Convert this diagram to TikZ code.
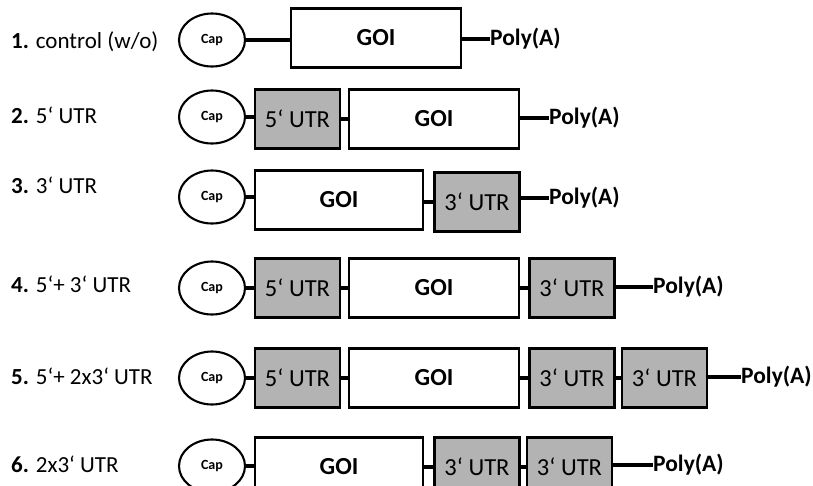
\documentclass[tikz,border=0pt]{standalone}
\usepackage{fontspec}
\setmainfont{Carlito}
\definecolor{utrgray}{HTML}{B3B3B3}
\tikzset{
  capnode/.style={ellipse, draw, line width=2.1pt, minimum width=66pt, minimum height=53pt, inner sep=0pt, font=\fontsize{14}{16}\selectfont\bfseries},
  goibox/.style={rectangle, draw, line width=2.2pt, fill=white, minimum height=59pt, inner sep=0pt, font=\fontsize{24.5}{28}\selectfont\bfseries},
  utrbox/.style={rectangle, draw, line width=2.2pt, fill=utrgray, minimum width=85pt, minimum height=59pt, inner sep=0pt, font=\fontsize{24.5}{28}\selectfont},
  polytext/.style={anchor=west, inner sep=0pt, font=\fontsize{23.5}{27}\selectfont\bfseries},
  rowlabel/.style={anchor=base west, inner sep=0pt, font=\fontsize{23}{27}\selectfont},
  link/.style={line width=3.4pt}
}
\usetikzlibrary{shapes.geometric}
\begin{document}
\begin{tikzpicture}[x=1pt,y=-1pt]
\useasboundingbox (0,0) rectangle (813,485);
\clip (0,0) rectangle (813,485);
% Row 1
\node[rowlabel] (l1) at (11,48) {\textbf{1.} control (w/o)};
\node[capnode] (c1) at (212,40) {Cap};
\node[goibox, minimum width=170pt] (g1) at (376,38) {GOI};
\node[polytext] (p1) at (490,39) {Poly(A)};
\draw[link] (c1.east) -- (c1.east -| g1.west);
\draw[link] (g1.east |- p1.west) -- (p1.west);
% Row 2
\node[rowlabel] (l2) at (11,123) {\textbf{2.} 5‘ UTR};
\node[capnode] (c2) at (212,117) {Cap};
\node[utrbox] (u21) at (297.5,119) {5‘ UTR};
\node[goibox, minimum width=170pt] (g2) at (434,119) {GOI};
\node[polytext] (p2) at (549,118) {Poly(A)};
\draw[link] (c2.east) -- (c2.east -| u21.west);
\draw[link] (u21.east) -- (g2.west);
\draw[link] (g2.east |- p2.west) -- (p2.west);
% Row 3
\node[rowlabel] (l3) at (11,193) {\textbf{3.} 3‘ UTR};
\node[capnode] (c3) at (212,197) {Cap};
\node[goibox, minimum width=168pt] (g3) at (339,200) {GOI};
\node[utrbox] (u31) at (477,202) {3‘ UTR};
\node[polytext] (p3) at (549,198) {Poly(A)};
\draw[link] (c3.east) -- (c3.east -| g3.west);
\draw[link] (g3.east |- u31.west) -- (u31.west);
\draw[link] (u31.east |- p3.west) -- (p3.west);
% Row 4
\node[rowlabel] (l4) at (11,292) {\textbf{4.} 5‘+ 3‘ UTR};
\node[capnode] (c4) at (212,288) {Cap};
\node[utrbox] (u41) at (297.5,288) {5‘ UTR};
\node[goibox, minimum width=170pt] (g4) at (434,288) {GOI};
\node[utrbox] (u42) at (572,288) {3‘ UTR};
\node[polytext] (p4) at (653,287) {Poly(A)};
\draw[link] (c4.east) -- (c4.east -| u41.west);
\draw[link] (u41.east) -- (g4.west);
\draw[link] (g4.east) -- (u42.west);
\draw[link] (u42.east |- p4.west) -- (p4.west);
% Row 5
\node[rowlabel] (l5) at (11,384) {\textbf{5.} 5‘+ 2x3‘ UTR};
\node[capnode] (c5) at (212,378) {Cap};
\node[utrbox] (u51) at (297.5,378) {5‘ UTR};
\node[goibox, minimum width=170pt] (g5) at (434,378) {GOI};
\node[utrbox] (u52) at (572,378) {3‘ UTR};
\node[utrbox] (u53) at (664.5,378) {3‘ UTR};
\node[polytext] (p5) at (741,377) {Poly(A)};
\draw[link] (c5.east) -- (c5.east -| u51.west);
\draw[link] (u51.east) -- (g5.west);
\draw[link] (g5.east) -- (u52.west);
\draw[link] (u52.east) -- (u53.west);
\draw[link] (u53.east |- p5.west) -- (p5.west);
% Row 6
\node[rowlabel] (l6) at (11,472) {\textbf{6.} 2x3‘ UTR};
\node[capnode] (c6) at (212,466) {Cap};
\node[goibox, minimum width=168pt] (g6) at (339,467) {GOI};
\node[utrbox] (u61) at (477,467) {3‘ UTR};
\node[utrbox] (u62) at (569.5,467) {3‘ UTR};
\node[polytext] (p6) at (653,465) {Poly(A)};
\draw[link] (c6.east) -- (c6.east -| g6.west);
\draw[link] (g6.east) -- (u61.west);
\draw[link] (u61.east) -- (u62.west);
\draw[link] (u62.east |- p6.west) -- (p6.west);
\end{tikzpicture}
\end{document}
